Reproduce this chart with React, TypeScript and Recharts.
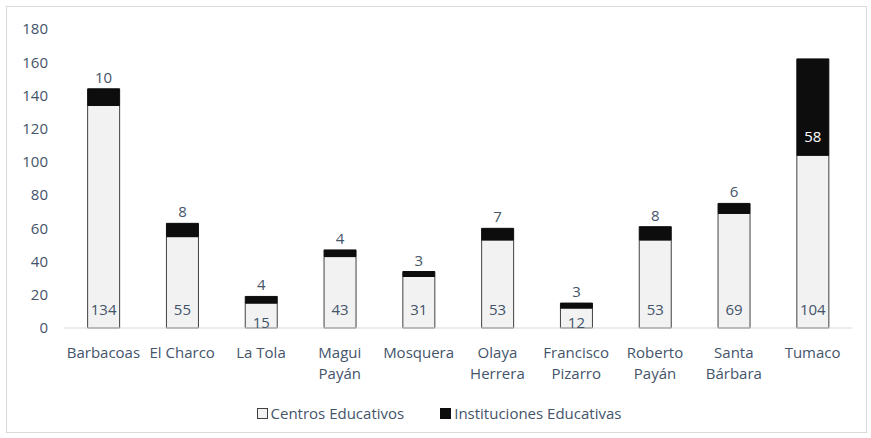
import React from 'react';
import { BarChart, Bar, XAxis, YAxis, Legend } from 'recharts';

const municipios = [
  'Barbacoas',
  'El Charco',
  'La Tola',
  'Magui Payán',
  'Mosquera',
  'Olaya Herrera',
  'Francisco Pizarro',
  'Roberto Payán',
  'Santa Bárbara',
  'Tumaco',
];
const centrosEducativos = [134, 55, 15, 43, 31, 53, 12, 53, 69, 104];
const institucionesEducativas = [10, 8, 4, 4, 3, 7, 3, 8, 6, 58];
const yTicks = [0, 20, 40, 60, 80, 100, 120, 140, 160, 180];

const FONT = '"Open Sans", "Noto Sans", sans-serif';
const TEXT = '#44546a';
const FS = 15;

const data = municipios.map((m, i) => ({
  municipio: m,
  centros: centrosEducativos[i],
  instituciones: institucionesEducativas[i],
}));

// two-word names wrap onto two lines, except "El Charco" / "La Tola"
const wrapped = new Set(['Magui Payán', 'Olaya Herrera', 'Francisco Pizarro', 'Roberto Payán', 'Santa Bárbara']);

const CategoryTick = ({ x, y, payload }: any) => {
  const name: string = payload.value;
  const lines = wrapped.has(name) ? name.split(' ') : [name];
  return (
    <g transform={`translate(${x},${y})`}>
      {lines.map((l, i) => (
        <text
          key={i}
          x={0}
          y={16 + i * 21}
          textAnchor="middle"
          dominantBaseline="central"
          fill={TEXT}
          style={{ fontFamily: FONT, fontSize: FS }}
        >
          {l}
        </text>
      ))}
    </g>
  );
};

const CentrosLabel = ({ x, y, width, height, index }: any) => {
  const bottom = y + height;
  const cy = height > 30 ? bottom - 19 : bottom - 6;
  return (
    <text
      x={x + width / 2}
      y={cy}
      textAnchor="middle"
      dominantBaseline="central"
      fill={TEXT}
      style={{ fontFamily: FONT, fontSize: FS }}
    >
      {centrosEducativos[index]}
    </text>
  );
};

const InstitucionesLabel = ({ x, y, width, height, index }: any) => {
  const inside = height > 40;
  return (
    <text
      x={x + width / 2}
      y={inside ? y + height * 0.8 : y - 12}
      textAnchor="middle"
      dominantBaseline="central"
      fill={inside ? '#ffffff' : TEXT}
      style={{ fontFamily: FONT, fontSize: FS }}
    >
      {institucionesEducativas[index]}
    </text>
  );
};

const LegendBox = () => (
  <div
    style={{
      display: 'flex',
      justifyContent: 'center',
      gap: 36,
      fontFamily: FONT,
      fontSize: FS,
      color: TEXT,
      paddingLeft: 12,
    }}
  >
    <span style={{ display: 'flex', alignItems: 'center' }}>
      <span style={{ width: 9, height: 9, background: '#f2f2f2', border: '1px solid #404040', marginRight: 3 }} />
      Centros Educativos
    </span>
    <span style={{ display: 'flex', alignItems: 'center' }}>
      <span style={{ width: 11, height: 11, background: '#0d0d0d', marginRight: 3 }} />
      Instituciones Educativas
    </span>
  </div>
);

export default function App() {
  return (
    <div style={{ position: 'absolute', left: 0, top: 0, width: 871, height: 438, background: '#fff' }}>
      <div
        style={{
          position: 'absolute',
          left: 6,
          top: 6,
          width: 859,
          height: 425,
          border: '1px solid #d9d9d9',
        }}
      />
      <BarChart
        width={871}
        height={438}
        data={data}
        margin={{ top: 29, right: 19, left: 14, bottom: 30 }}
        barCategoryGap="30%"
      >
        <XAxis
          dataKey="municipio"
          interval={0}
          axisLine={{ stroke: '#d9d9d9' }}
          tickLine={false}
          tick={<CategoryTick />}
          height={60}
        />
        <YAxis
          domain={[0, 180]}
          ticks={yTicks}
          axisLine={false}
          tickLine={false}
          width={50}
          tickMargin={10}
          tick={{ fill: TEXT, fontFamily: FONT, fontSize: FS }}
        />
        <Legend content={<LegendBox />} verticalAlign="bottom" wrapperStyle={{ bottom: 15 }} />
        <Bar
          dataKey="centros"
          name="Centros Educativos"
          stackId="a"
          fill="#f2f2f2"
          stroke="#404040"
          strokeWidth={1}
          isAnimationActive={false}
          label={<CentrosLabel />}
        />
        <Bar
          dataKey="instituciones"
          name="Instituciones Educativas"
          stackId="a"
          fill="#0d0d0d"
          stroke="#0d0d0d"
          strokeWidth={1}
          isAnimationActive={false}
          label={<InstitucionesLabel />}
        />
      </BarChart>
    </div>
  );
}
